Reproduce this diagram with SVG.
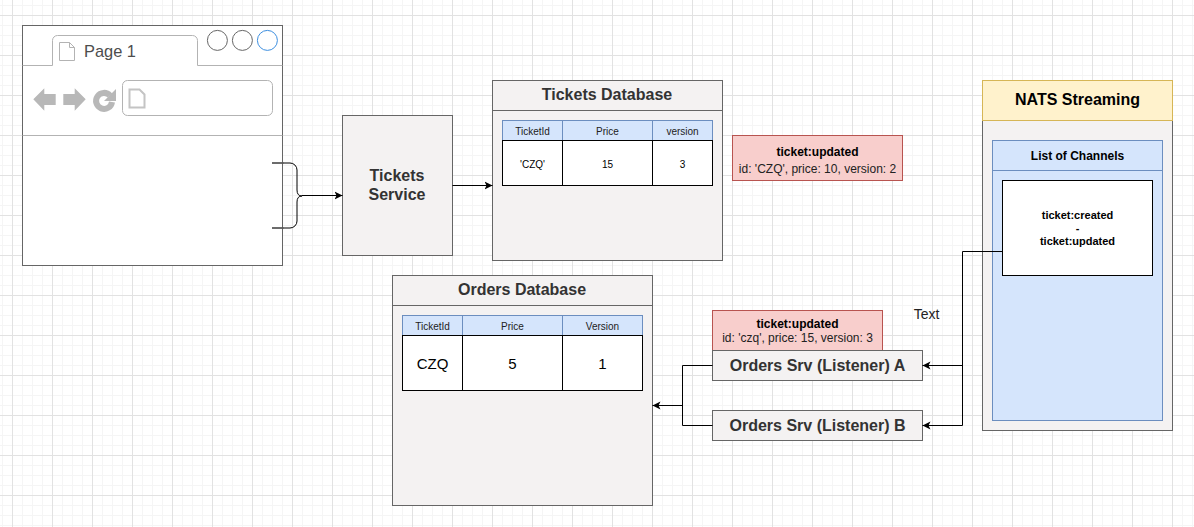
<svg xmlns="http://www.w3.org/2000/svg" width="1194" height="527" viewBox="0 0 1194 527">
<style>
text{font-family:"Liberation Sans",Arial,sans-serif;text-anchor:middle;fill:#000}
.box{fill:#f4f2f2;stroke:#666;stroke-width:1}
.title{font-size:16px;font-weight:bold;fill:#333}
.hdr{fill:#d5e5fc;stroke:#6c8ebf;stroke-width:1}
.cell{fill:#fff;stroke:#000;stroke-width:1}
.th{font-size:10px;fill:#222}
.td{font-size:10px}
.tdl{font-size:15px}
.msg{fill:#f8cecc;stroke:#b85450;stroke-width:1}
.m1{font-size:12px;font-weight:bold}
.m2{font-size:12px;fill:#222}
.con{fill:none;stroke:#000;stroke-width:1;marker-end:url(#arr)}
.line{fill:none;stroke:#000;stroke-width:1}
.gray{fill:none;stroke:#b3b3b3;stroke-width:1}
.ico{fill:#b8b8b8;stroke:none}
</style>
<defs>
<marker id="arr" markerUnits="userSpaceOnUse" markerWidth="9" markerHeight="10" refX="8" refY="5" orient="auto">
<path d="M0 1L8 5L0 9L2 5Z" fill="#000"/>
</marker>
<pattern id="grid" patternUnits="userSpaceOnUse" x="12" y="15" width="40" height="40">
<path d="M10.5 0V40M20.5 0V40M30.5 0V40M0 10.5H40M0 20.5H40M0 30.5H40" fill="none" stroke="#f5f5f5" stroke-width="1"/>
<path d="M.5 0V40M0 .5H40" fill="none" stroke="#e2e2e2" stroke-width="1"/>
</pattern>
</defs>
<rect width="1194" height="527" fill="#fff"/>
<rect width="1194" height="527" fill="url(#grid)"/>

<g id="browser">
<rect x="22.5" y="25.5" width="260" height="240" fill="#fff" stroke="#666"/>
<path class="gray" d="M22.5 65.5H52.5V40.5a5 5 0 0 1 5-5H192.5a5 5 0 0 1 5 5V65.5H282.5"/>
<path class="gray" d="M22.5 135.500H282.5"/>
<path class="gray" d="M59.5 42.5H69.5L74.5 47.5V60.5H59.5ZM69.5 42.5V47.5H74.5"/>
<text x="84" y="57" style="font-size:16.4px;text-anchor:start;fill:#4d4d4d">Page 1</text>
<circle cx="217.4" cy="40.4" r="10" fill="#fff" stroke="#666"/>
<circle cx="242.4" cy="40.4" r="10" fill="#fff" stroke="#666"/>
<circle cx="267.4" cy="40.4" r="10" fill="#fff" stroke="#3d8fe0"/>
<path class="ico" d="M33.3 99.3L44.3 88.3V94H55.7V105H44.3V110.7Z"/>
<path class="ico" d="M85.700 99.3L74.7 88.3V94H63.3V105H74.7V110.7Z"/>
<path d="M110 95.500A8 8 0 1 0 112 102" fill="none" stroke="#b8b8b8" stroke-width="6"/>
<path class="ico" d="M116 89V101H104Z"/>
<rect class="gray" x="122.5" y="80.5" width="150" height="35" rx="5"/>
<path d="M129.5 89.5H139.5L144.5 94.5V107.5H129.5Z" fill="none" stroke="#c4c4c4" stroke-width="2"/>
</g>

<g id="tickets-service">
<rect class="box" x="342.5" y="115.5" width="110" height="140"/>
<text class="title" x="397" y="181">Tickets</text>
<text class="title" x="397" y="200">Service</text>
</g>

<g id="tickets-database">
<rect class="box" x="492.5" y="80.5" width="230" height="180"/>
<path d="M492.5 110.5H722.5" fill="none" stroke="#666"/>
<text class="title" x="607" y="100">Tickets Database</text>
<rect class="hdr" x="502.5" y="120.5" width="60" height="20"/>
<rect class="hdr" x="562.5" y="120.5" width="90" height="20"/>
<rect class="hdr" x="652.5" y="120.5" width="60" height="20"/>
<rect class="cell" x="502.5" y="140.5" width="60" height="45"/>
<rect class="cell" x="562.5" y="140.5" width="90" height="45"/>
<rect class="cell" x="652.5" y="140.5" width="60" height="45"/>
<text class="th" x="532.5" y="135">TicketId</text>
<text class="th" x="607.5" y="135">Price</text>
<text class="th" x="682.5" y="135">version</text>
<text class="td" x="532.5" y="168">'CZQ'</text>
<text class="td" x="607.5" y="168">15</text>
<text class="td" x="682.5" y="168">3</text>
</g>

<g id="event-top">
<rect class="msg" x="732.5" y="135.5" width="170" height="45"/>
<text class="m1" x="817.5" y="156">ticket:updated</text>
<text class="m2" x="817.5" y="173">id: 'CZQ', price: 10, version: 2</text>
</g>

<g id="nats-streaming">
<rect class="box" x="982.5" y="120.5" width="190" height="310"/>
<rect x="982.5" y="80.5" width="190" height="40" fill="#fff2cc" stroke="#d6b656"/>
<text x="1077.5" y="105" style="font-size:16px;font-weight:bold">NATS Streaming</text>
<rect class="hdr" x="992.5" y="140.5" width="170" height="280"/>
<path d="M992.5 170.5H1162.5" fill="none" stroke="#6c8ebf"/>
<text x="1077.5" y="160" style="font-size:12px;font-weight:bold">List of Channels</text>
<rect class="cell" x="1002.5" y="180.5" width="150" height="95"/>
<text x="1077.5" y="219" style="font-size:11px;font-weight:bold">ticket:created</text>
<text x="1077.5" y="232" style="font-size:11px;font-weight:bold">-</text>
<text x="1077.5" y="245" style="font-size:11px;font-weight:bold">ticket:updated</text>
</g>

<g id="orders-database">
<rect class="box" x="392.5" y="275.5" width="260" height="230"/>
<path d="M392.5 305.5H652.5" fill="none" stroke="#666"/>
<text class="title" x="522" y="295">Orders Database</text>
<rect class="hdr" x="402.5" y="315.5" width="60" height="20"/>
<rect class="hdr" x="462.5" y="315.5" width="100" height="20"/>
<rect class="hdr" x="562.5" y="315.5" width="80" height="20"/>
<rect class="cell" x="402.5" y="335.5" width="60" height="55"/>
<rect class="cell" x="462.5" y="335.5" width="100" height="55"/>
<rect class="cell" x="562.5" y="335.5" width="80" height="55"/>
<text class="th" x="432.5" y="330">TicketId</text>
<text class="th" x="512.5" y="330">Price</text>
<text class="th" x="602.5" y="330">Version</text>
<text class="tdl" x="432.5" y="369">CZQ</text>
<text class="tdl" x="512.5" y="369">5</text>
<text class="tdl" x="602.5" y="369">1</text>
</g>

<g id="event-bottom">
<rect class="msg" x="712.5" y="310.5" width="170" height="40"/>
<text class="m1" x="797.5" y="328">ticket:updated</text>
<text class="m2" x="797.5" y="342">id: 'czq', price: 15, version: 3</text>
</g>

<g id="orders-listener-a">
<rect class="box" x="712.5" y="350.5" width="210" height="30"/>
<text class="title" x="817.5" y="371">Orders Srv (Listener) A</text>
</g>

<g id="orders-listener-b">
<rect class="box" x="712.5" y="410.5" width="210" height="30"/>
<text class="title" x="817.5" y="431">Orders Srv (Listener) B</text>
</g>

<g id="label-text">
<text x="926.5" y="319" style="font-size:14px;fill:#222">Text</text>
</g>

<g id="connectors">
<path class="line" d="M272 163H290a7 7 0 0 1 7 7V190Q297 196 302 196Q297 196 297 202V221a7 7 0 0 1-7 7H272"/>
<path d="M272 163H284M272 228H284" fill="none" stroke="#666" stroke-width="1.5"/>
<path class="con" d="M302 195.500H342.500"/>
<path class="con" d="M452.500 185.500H492.500"/>
<path class="line" d="M1002.500 251.500H962.500V425.500"/>
<path class="con" d="M962.500 365.500H922.500"/>
<path class="con" d="M962.500 425.500H922.500"/>
<path class="line" d="M712.500 365.500H682.500V425.500H712.500"/>
<path class="con" d="M682.500 405.500H652.500"/>
</g>
</svg>
